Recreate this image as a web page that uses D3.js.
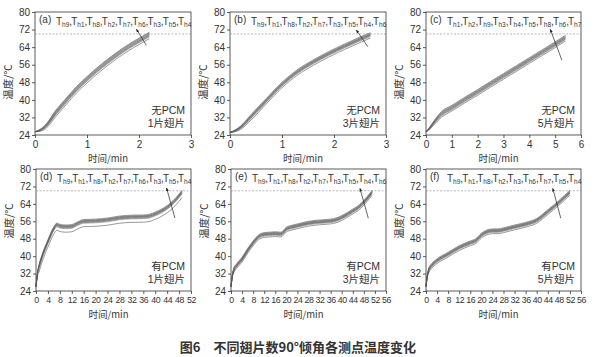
<!DOCTYPE html>
<html><head><meta charset="utf-8">
<script src="https://cdn.jsdelivr.net/npm/d3@7"></script>
<style>
html,body{margin:0;padding:0;background:#fff;}
svg{display:block;}
text{font-family:"Liberation Sans",Arial,sans-serif;fill:#333;}
.cjk{font-family:"Noto Sans CJK SC",sans-serif;}
.mix{font-family:"Liberation Sans","Noto Sans CJK SC",sans-serif;}
</style></head>
<body>
<script>
// ---------- data ----------
const yTicks = [24,32,40,48,56,64,72,80];
const xTicksA = [0,1,2,3], xTicksB = [0,1,2,3], xTicksC = [0,1,2,3,4,5,6];
const xTicksD = [0,4,8,12,16,20,24,28,32,36,40,44,48,52];
const xTicksE = [0,4,8,12,16,20,24,28,32,36,40,44,48,52,56];
const xTicksF = [0,4,8,12,16,20,24,28,32,36,40,44,48,52,56];

const labelsA = ["h9","h1","h8","h2","h7","h6","h3","h5","h4"];
const labelsB = ["h9","h1","h8","h2","h7","h3","h5","h4","h6"];
const labelsC = ["h1","h2","h9","h3","h4","h5","h8","h6","h7"];
const labelsD = ["h9","h1","h8","h2","h7","h6","h3","h5","h4"];
const labelsE = ["h9","h1","h8","h2","h7","h3","h5","h4","h6"];
const labelsF = ["h9","h1","h8","h2","h3","h6","h7","h5","h4"];

const timeA = [0,0.1,0.2,0.4,0.6,0.8,1.0,1.2,1.4,1.6,1.8,2.0,2.2];
const seriesA = [
 [25.5,26.6,28.6,35.3,40.8,46.1,50.6,54.8,58.6,62.1,65.3,68.1,70.8],
 [25.5,26.5,28.4,35.0,40.5,45.8,50.3,54.5,58.3,61.8,65.0,67.8,70.5],
 [25.5,26.4,28.2,34.7,40.2,45.5,50.0,54.2,58.0,61.5,64.7,67.5,70.2],
 [25.5,26.3,28.0,34.4,39.9,45.2,49.7,53.9,57.7,61.2,64.4,67.2,69.9],
 [25.5,26.2,27.9,34.1,39.6,44.9,49.4,53.6,57.4,60.9,64.1,66.9,69.6],
 [25.5,26.1,27.7,33.8,39.3,44.6,49.1,53.3,57.1,60.6,63.8,66.6,69.3],
 [25.5,26.0,27.5,33.5,39.0,44.3,48.8,53.0,56.8,60.3,63.5,66.3,69.0],
 [25.5,25.9,27.3,33.2,38.7,44.0,48.5,52.7,56.5,60.0,63.2,66.0,68.7],
 [25.5,25.7,26.8,32.4,37.9,43.2,47.7,51.9,55.7,59.2,62.4,65.2,67.9]
];
const timeB = [0,0.1,0.2,0.4,0.7,1.0,1.3,1.6,1.9,2.2,2.5,2.7];
const seriesB = [
 [25.2,26.3,28.0,33.2,40.7,48.0,53.8,58.2,62.0,65.4,68.6,70.6],
 [25.2,26.2,27.8,32.9,40.4,47.7,53.5,57.9,61.7,65.1,68.3,70.3],
 [25.2,26.1,27.7,32.6,40.1,47.4,53.2,57.6,61.4,64.8,68.0,70.0],
 [25.2,26.0,27.5,32.4,39.9,47.2,53.0,57.4,61.2,64.6,67.8,69.8],
 [25.2,26.0,27.4,32.2,39.7,47.0,52.8,57.2,61.0,64.4,67.6,69.6],
 [25.2,25.9,27.3,32.0,39.5,46.8,52.6,57.0,60.8,64.2,67.4,69.4],
 [25.2,25.8,27.1,31.7,39.2,46.5,52.3,56.7,60.5,63.9,67.1,69.1],
 [25.2,25.7,26.9,31.4,38.9,46.2,52.0,56.4,60.2,63.6,66.8,68.8],
 [25.2,25.5,26.5,30.7,38.2,45.5,51.3,55.7,59.5,62.9,66.1,68.1]
];
const timeC = [0,0.1,0.3,0.6,1.0,1.5,2.0,2.5,3.0,3.5,4.0,4.5,5.0,5.4];
const seriesC = [
 [25.5,26.9,30.3,34.7,37.5,41.2,44.7,48.4,52.0,55.6,59.2,62.8,66.4,69.4],
 [25.5,26.8,30.1,34.4,37.2,40.9,44.4,48.1,51.7,55.3,58.9,62.5,66.1,69.1],
 [25.5,26.7,29.9,34.1,36.9,40.6,44.1,47.8,51.4,55.0,58.6,62.2,65.8,68.8],
 [25.5,26.6,29.7,33.8,36.6,40.3,43.8,47.5,51.1,54.7,58.3,61.9,65.5,68.5],
 [25.5,26.5,29.6,33.6,36.4,40.1,43.6,47.3,50.9,54.5,58.1,61.7,65.3,68.3],
 [25.5,26.4,29.4,33.3,36.1,39.8,43.3,47.0,50.6,54.2,57.8,61.4,65.0,68.0],
 [25.5,26.4,29.2,33.0,35.8,39.5,43.0,46.7,50.3,53.9,57.5,61.1,64.7,67.7],
 [25.5,26.3,28.9,32.7,35.5,39.2,42.7,46.4,50.0,53.6,57.2,60.8,64.4,67.4],
 [25.5,26.1,28.5,32.1,34.9,38.6,42.1,45.8,49.4,53.0,56.6,60.2,63.8,66.8]
];
const timeD = [0,0.5,1,2,4,6,7,8,10,12,14,16,20,24,28,32,36,38,40,42,44,46,48,49];
const seriesD = [
 [26,32.5,36.0,40.5,47.5,53.5,55.2,54.6,54.3,54.5,55.8,56.8,57.0,57.5,58.4,58.8,58.9,59.2,60.2,61.5,63.2,65.5,68.5,70.2],
 [26,32.4,35.7,40.2,47.2,53.2,54.9,54.3,54.0,54.2,55.5,56.5,56.7,57.2,58.1,58.5,58.6,58.9,59.9,61.2,62.9,65.2,68.2,69.9],
 [26,32.3,35.5,40.0,47.0,53.0,54.7,54.1,53.8,54.0,55.3,56.3,56.5,57.0,57.9,58.3,58.4,58.7,59.7,61.0,62.7,65.0,68.0,69.7],
 [26,32.2,35.3,39.8,46.8,52.8,54.5,53.9,53.6,53.8,55.1,56.1,56.3,56.8,57.7,58.1,58.2,58.5,59.5,60.8,62.5,64.8,67.8,69.5],
 [26,32.1,35.1,39.6,46.6,52.6,54.3,53.7,53.4,53.6,54.9,55.9,56.1,56.6,57.5,57.9,58.0,58.3,59.3,60.6,62.3,64.6,67.6,69.3],
 [26,31.9,34.9,39.4,46.4,52.4,54.1,53.5,53.2,53.4,54.7,55.7,55.9,56.4,57.3,57.7,57.8,58.1,59.1,60.4,62.1,64.4,67.4,69.1],
 [26,31.8,34.6,39.1,46.1,52.1,53.8,53.2,52.9,53.1,54.4,55.4,55.6,56.1,57.0,57.4,57.5,57.8,58.8,60.1,61.8,64.1,67.1,68.8],
 [26,31.7,34.3,38.8,45.8,51.8,53.5,52.9,52.6,52.8,54.1,55.1,55.3,55.8,56.7,57.1,57.2,57.5,58.5,59.8,61.5,63.8,66.8,68.5],
 [26,30.9,32.7,37.2,44.2,50.2,51.9,51.3,51.0,51.2,52.5,53.5,53.7,54.2,55.1,55.5,55.6,55.9,56.9,58.2,59.9,62.2,65.2,66.9]
];
const timeE = [0,0.5,1,2,4,6,8,10,12,14,16,18,20,22,24,28,32,36,38,40,42,44,46,48,50,51];
const seriesE = [
 [26,31.5,34.5,36.5,39.5,43.5,47.0,49.8,50.8,51.0,51.2,51.0,53.3,54.2,54.8,56.0,56.6,57.0,57.5,58.6,60.0,61.6,63.2,65.6,68.6,70.2],
 [26,31.4,34.2,36.2,39.2,43.2,46.7,49.5,50.5,50.7,50.9,50.7,53.0,53.9,54.5,55.7,56.3,56.7,57.2,58.3,59.7,61.3,62.9,65.3,68.3,69.9],
 [26,31.3,34.0,36.0,39.0,43.0,46.5,49.3,50.3,50.5,50.7,50.5,52.8,53.7,54.3,55.5,56.1,56.5,57.0,58.1,59.5,61.1,62.7,65.1,68.1,69.7],
 [26,31.2,33.8,35.8,38.8,42.8,46.3,49.1,50.1,50.3,50.5,50.3,52.6,53.5,54.1,55.3,55.9,56.3,56.8,57.9,59.3,60.9,62.5,64.9,67.9,69.5],
 [26,31.1,33.6,35.6,38.6,42.6,46.1,48.9,49.9,50.1,50.3,50.1,52.4,53.3,53.9,55.1,55.7,56.1,56.6,57.7,59.1,60.7,62.3,64.7,67.7,69.3],
 [26,30.9,33.4,35.4,38.4,42.4,45.9,48.7,49.7,49.9,50.1,49.9,52.2,53.1,53.7,54.9,55.5,55.9,56.4,57.5,58.9,60.5,62.1,64.5,67.5,69.1],
 [26,30.8,33.2,35.2,38.2,42.2,45.7,48.5,49.5,49.7,49.9,49.7,52.0,52.9,53.5,54.7,55.3,55.7,56.2,57.3,58.7,60.3,61.9,64.3,67.3,68.9],
 [26,30.7,32.9,34.9,37.9,41.9,45.4,48.2,49.2,49.4,49.6,49.4,51.7,52.6,53.2,54.4,55.0,55.4,55.9,57.0,58.4,60.0,61.6,64.0,67.0,68.6],
 [26,30.4,32.3,34.3,37.3,41.3,44.8,47.6,48.6,48.8,49.0,48.8,51.1,52.0,52.6,53.8,54.4,54.8,55.3,56.4,57.8,59.4,61.0,63.4,66.4,68.0]
];
const timeF = [0,0.5,1,2,4,8,12,16,18,20,22,24,26,28,32,36,40,44,48,50,52];
const seriesF = [
 [26,31.5,34.5,36.5,38.8,41.8,44.8,47.0,48.0,50.5,52.0,52.5,52.5,53.0,54.3,55.5,57.3,61.3,65.5,67.8,70.2],
 [26,31.4,34.2,36.2,38.5,41.5,44.5,46.7,47.7,50.2,51.7,52.2,52.2,52.7,54.0,55.2,57.0,61.0,65.2,67.5,69.9],
 [26,31.3,34.0,36.0,38.3,41.3,44.3,46.5,47.5,50.0,51.5,52.0,52.0,52.5,53.8,55.0,56.8,60.8,65.0,67.3,69.7],
 [26,31.2,33.8,35.8,38.1,41.1,44.1,46.3,47.3,49.8,51.3,51.8,51.8,52.3,53.6,54.8,56.6,60.6,64.8,67.1,69.5],
 [26,31.1,33.6,35.6,37.9,40.9,43.9,46.1,47.1,49.6,51.1,51.6,51.6,52.1,53.4,54.6,56.4,60.4,64.6,66.9,69.3],
 [26,30.9,33.4,35.4,37.7,40.7,43.7,45.9,46.9,49.4,50.9,51.4,51.4,51.9,53.2,54.4,56.2,60.2,64.4,66.7,69.1],
 [26,30.8,33.2,35.2,37.5,40.5,43.5,45.7,46.7,49.2,50.7,51.2,51.2,51.7,53.0,54.2,56.0,60.0,64.2,66.5,68.9],
 [26,30.7,32.9,34.9,37.2,40.2,43.2,45.4,46.4,48.9,50.4,50.9,50.9,51.4,52.7,53.9,55.7,59.7,63.9,66.2,68.6],
 [26,30.4,32.3,34.3,36.6,39.6,42.6,44.8,45.8,48.3,49.8,50.3,50.3,50.8,52.1,53.3,55.1,59.1,63.3,65.6,68.0]
];
const limitTemp = 70;
// arrows: [tailX, tailY, headX, headY] in data units
const arrowA = [2.14,64.9,1.95,72.2];
const arrowB = [2.65,64.2,2.43,71.8];
const arrowC = [5.26,58.1,4.81,72.1];
const arrowD = [46.6,57.5,43.8,71.3];
const arrowE = [49.6,57.4,46.6,71.1];
const arrowF = [48.7,57.4,45.8,71.1];
const noteLine1 = ["无PCM","无PCM","无PCM","有PCM","有PCM","有PCM"];
const noteLine2 = ["1片翅片","3片翅片","5片翅片","1片翅片","3片翅片","5片翅片"];
const panelTags = ["(a)","(b)","(c)","(d)","(e)","(f)"];
const caption = "图6　不同翅片数90°倾角各测点温度变化";

// ---------- layout ----------
const W = 596, H = 357;
const svg = d3.select("body").append("svg").attr("width",W).attr("height",H);
svg.append("defs").append("marker").attr("id","ah").attr("viewBox","0 0 10 10")
  .attr("refX",9).attr("refY",5).attr("markerWidth",5).attr("markerHeight",5)
  .attr("orient","auto").append("path").attr("d","M0,1L10,5L0,9Z").attr("fill","#222");

const panels = [
 {x0:35, x1:191, y0:12, y1:135, xmax:3, xt:xTicksA, time:timeA, series:seriesA, labels:labelsA, arrow:arrowA, ytitle:82},
 {x0:230,x1:386, y0:12, y1:135, xmax:3, xt:xTicksB, time:timeB, series:seriesB, labels:labelsB, arrow:arrowB, ytitle:82},
 {x0:426,x1:581, y0:12, y1:135, xmax:6, xt:xTicksC, time:timeC, series:seriesC, labels:labelsC, arrow:arrowC, ytitle:82},
 {x0:36, x1:191, y0:169,y1:291, xmax:52,xt:xTicksD, time:timeD, series:seriesD, labels:labelsD, arrow:arrowD, ytitle:221},
 {x0:231,x1:386, y0:169,y1:291, xmax:56,xt:xTicksE, time:timeE, series:seriesE, labels:labelsE, arrow:arrowE, ytitle:221},
 {x0:426,x1:581, y0:169,y1:291, xmax:56,xt:xTicksF, time:timeF, series:seriesF, labels:labelsF, arrow:arrowF, ytitle:221}
];

panels.forEach((p,i)=>{
  const x = d3.scaleLinear().domain([0,p.xmax]).range([p.x0,p.x1]);
  const y = d3.scaleLinear().domain([24,80]).range([p.y1,p.y0]);
  const g = svg.append("g");
  const big = p.xmax > 10;

  // axes
  const ax = g.append("g").attr("transform",`translate(0,${p.y1})`)
    .call(d3.axisBottom(x).tickValues(p.xt).tickFormat(d3.format("d")).tickSize(3).tickSizeOuter(0).tickPadding(2));
  const ay = g.append("g").attr("transform",`translate(${p.x0},0)`)
    .call(d3.axisLeft(y).tickValues(yTicks).tickFormat(d3.format("d")).tickSize(3).tickSizeOuter(0).tickPadding(2));
  [ax,ay].forEach(a=>{
    a.select(".domain").remove();
    a.selectAll("line").attr("stroke","#333").attr("stroke-width",0.8);
    a.selectAll("text").attr("fill","#333").style("font-family","'Liberation Sans',Arial,sans-serif")
      .style("font-size", "10px");
  });
  ax.selectAll("text").attr("dy","0.8em");
  if (big) ax.selectAll("text").style("font-size","8.8px").style("letter-spacing","-0.4px");
  // frame
  g.append("rect").attr("x",p.x0).attr("y",p.y0).attr("width",p.x1-p.x0).attr("height",p.y1-p.y0)
    .attr("fill","none").attr("stroke","#333").attr("stroke-width",0.8);

  // limit line
  g.append("line").attr("x1",p.x0).attr("x2",p.x1).attr("y1",y(limitTemp)).attr("y2",y(limitTemp))
    .attr("stroke","#888").attr("stroke-width",0.6).attr("stroke-dasharray","2,1.5");

  // curves
  const line = d3.line().x((d,k)=>x(p.time[k])).y(d=>y(d)).curve(d3.curveMonotoneX);
  p.series.forEach((s,k)=>{
    g.append("path").attr("d",line(s)).attr("fill","none")
      .attr("stroke", k%2 ? "#777" : "#444").attr("stroke-width",0.55);
  });

  // arrow
  const a = p.arrow;
  g.append("line").attr("x1",x(a[0])).attr("y1",y(a[1])).attr("x2",x(a[2])).attr("y2",y(a[3]))
    .attr("stroke","#222").attr("stroke-width",0.7).attr("marker-end","url(#ah)");

  // tag and labels
  const ty = p.y0 + 13;
  g.append("text").attr("x",p.x0+4).attr("y",p.y0+11).text(panelTags[i]).style("font-size","10px");
  const lx0 = p.x0 + 21, step = (p.x1 - 3 - lx0 - 10)/8;
  p.labels.forEach((lb,k)=>{
    const t = g.append("text").attr("x",lx0 + k*step).attr("y",ty).style("font-size","10px");
    t.append("tspan").text("T");
    t.append("tspan").attr("dy",2).style("font-size","6.5px").text(lb);
    if (k < p.labels.length-1) t.append("tspan").attr("dy",-2).text(",");
  });

  // notes
  g.append("text").attr("class","mix").attr("x",p.x1-6).attr("y",p.y1-21).attr("text-anchor","end")
    .style("font-size","10.5px").attr("fill","#333").text(noteLine1[i]);
  g.append("text").attr("class","mix").attr("x",p.x1-6).attr("y",p.y1-8).attr("text-anchor","end")
    .style("font-size","10.5px").attr("fill","#333").text(noteLine2[i]);

  // axis titles
  g.append("text").attr("class","cjk").attr("x",(p.x0+p.x1)/2 - 5).attr("y",p.y1+26.5)
    .attr("text-anchor","middle").style("font-size","9.5px").attr("fill","#555").text("时间/min");
  g.append("text").attr("class","cjk")
    .attr("transform",`translate(${p.x0-27},${p.ytitle}) rotate(-90)`).attr("dy","0.35em")
    .attr("text-anchor","middle").style("font-size","10.5px").attr("fill","#555").text("温度/℃");
});

svg.append("text").attr("class","cjk").attr("x",W/2).attr("y",352).attr("text-anchor","middle")
  .style("font-size","13px").style("font-weight","bold").attr("fill","#555").text(caption);
</script>
</body></html>
